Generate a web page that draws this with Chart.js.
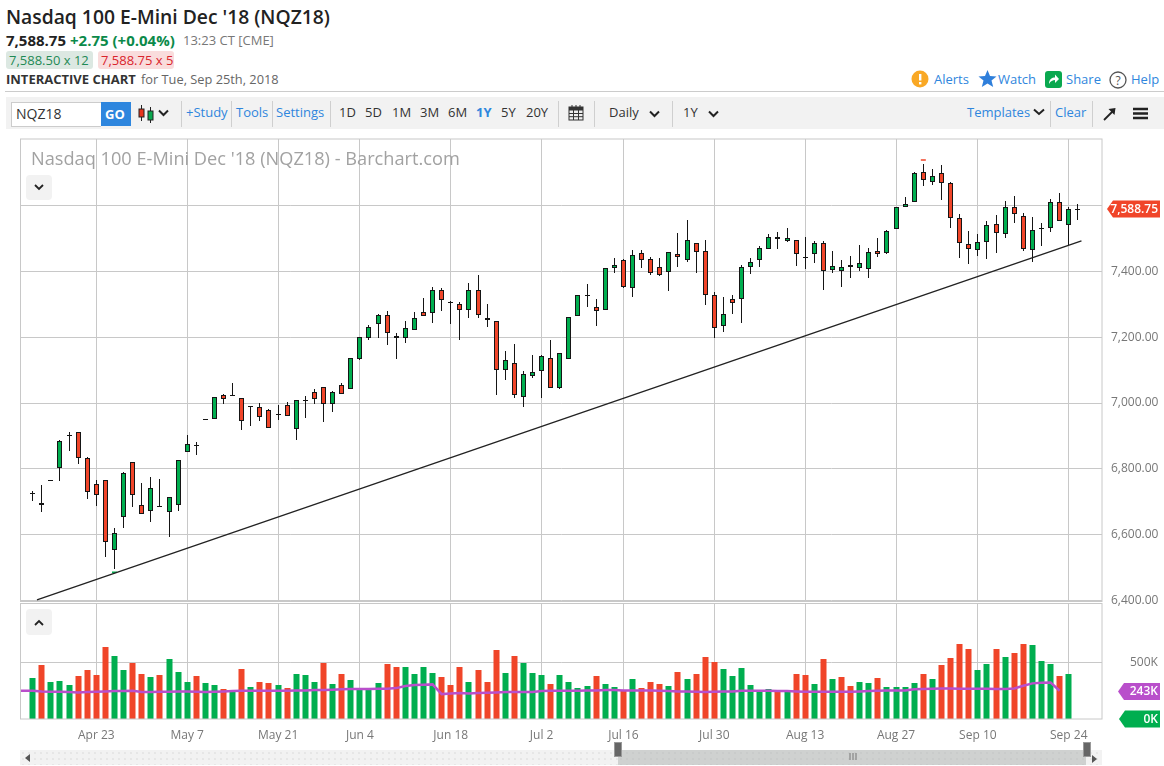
<!DOCTYPE html>
<html>
<head>
<meta charset="utf-8">
<title>NQZ18</title>
<script src="https://cdn.jsdelivr.net/npm/chart.js@4"></script>
<style>
    html, body { margin: 0; padding: 0; background: #fff; overflow: hidden; }
    body { width: 1164px; height: 766px; position: relative; font-family: "Open Sans", sans-serif; color: #333; }
    .t { position: absolute; white-space: nowrap; font-size: 13px; line-height: 18px; }
    .link { color: #2f86dd; }
    .box { position: absolute; }
    .div { position: absolute; top: 101px; height: 26px; width: 1px; background: #cfcfcf; }
    canvas { position: absolute; left: 0; }
    svg { position: absolute; }
</style>
</head>
<body>
    <div class="t" style="left:6px;top:3px;font-size:19.3px;line-height:28px;font-weight:600;color:#222">Nasdaq 100 E-Mini Dec '18 (NQZ18)</div>
    <div class="t" style="left:6px;top:31px;font-size:15px;font-weight:700;color:#222">7,588.75</div>
    <div class="t" style="left:70px;top:31px;font-size:15px;font-weight:700;color:#0b8a4a">+2.75 (+0.04%)</div>
    <div class="t" style="left:183px;top:31px;color:#777">13:23 CT [CME]</div>
    <div class="box" style="left:6px;top:51px;width:87px;height:18px;background:#dce8e2;border-radius:3px"></div>
    <div class="t" style="left:9px;top:51px;color:#1f8a55">7,588.50 x 12</div>
    <div class="box" style="left:98px;top:51px;width:76px;height:18px;background:#f9dcdc;border-radius:3px"></div>
    <div class="t" style="left:101px;top:51px;color:#d9242c">7,588.75 x 5</div>
    <div class="t" style="left:6px;top:70px;font-weight:700;color:#333">INTERACTIVE CHART</div>
    <div class="t" style="left:141px;top:70px;font-size:12.8px;color:#666">for Tue, Sep 25th, 2018</div>

    <svg style="left:911px;top:70px" width="18" height="18"><circle cx="9" cy="9" r="8.5" fill="#f9a825"/><rect x="8" y="4" width="2.4" height="6.5" fill="#fff"/><rect x="8" y="12" width="2.4" height="2.4" fill="#fff"/></svg>
    <div class="t link" style="left:934px;top:70px">Alerts</div>
    <svg style="left:978px;top:69px" width="19" height="19"><polygon points="9.5,1 12,7 18.5,7.4 13.5,11.6 15.2,18 9.5,14.4 3.8,18 5.5,11.6 0.5,7.4 7,7" fill="#2f7fdb"/></svg>
    <div class="t link" style="left:998px;top:70px">Watch</div>
    <svg style="left:1045px;top:71px" width="17" height="17"><rect width="17" height="17" rx="3" fill="#0aa84f"/><path d="M4 13 C4 8 7 6.5 10 6.5 L10 3.5 L14 8 L10 12 L10 9 C8 9 5.5 10 4 13 Z" fill="#fff"/></svg>
    <div class="t link" style="left:1066px;top:70px">Share</div>
    <svg style="left:1109px;top:71px" width="18" height="18"><circle cx="9" cy="9" r="8" fill="none" stroke="#555" stroke-width="1.3"/><text x="9" y="13.5" text-anchor="middle" font-size="12" font-family="Open Sans" fill="#555">?</text></svg>
    <div class="t link" style="left:1131px;top:70px">Help</div>

    <div class="box" style="left:5px;top:91px;width:1159px;height:1px;background:#ccc"></div>
    <div class="box" style="left:6px;top:97px;width:1158px;height:32px;background:#f2f2f2"></div>
    <div class="box" style="left:11px;top:102px;width:89px;height:23px;background:#fff;border:1px solid #ccc;border-right:none"></div>
    <div class="t" style="left:16px;top:105px;font-size:14px;color:#333">NQZ18</div>
    <div class="box" style="left:101px;top:102px;width:30px;height:24px;background:#2e86de"></div>
    <div class="t" style="left:105px;top:105px;font-weight:700;color:#fff">GO</div>
    <svg style="left:138px;top:104px" width="17" height="20"><path d="M3.5 1V17" stroke="#222"/><rect x="1" y="5" width="5" height="8" fill="#e8341c" stroke="#222"/><path d="M12.5 3V19" stroke="#222"/><rect x="10" y="7" width="5" height="9" fill="#0aa84f" stroke="#222"/></svg>
    <svg style="left:158px;top:109px" width="11" height="8"><path d="M1 1.5 L5.5 6 L10 1.5" fill="none" stroke="#222" stroke-width="2"/></svg>
    <div class="div" style="left:181px"></div>
    <div class="t link" style="left:186px;top:103px">+Study</div>
    <div class="div" style="left:231px"></div>
    <div class="t link" style="left:236px;top:103px">Tools</div>
    <div class="div" style="left:272px"></div>
    <div class="t link" style="left:276px;top:103px">Settings</div>
    <div class="div" style="left:330px"></div>
    <div class="t" style="left:339px;top:103px">1D</div>
    <div class="t" style="left:365px;top:103px">5D</div>
    <div class="t" style="left:392px;top:103px">1M</div>
    <div class="t" style="left:420px;top:103px">3M</div>
    <div class="t" style="left:448px;top:103px">6M</div>
    <div class="t link" style="left:476px;top:103px;font-weight:700">1Y</div>
    <div class="t" style="left:501px;top:103px">5Y</div>
    <div class="t" style="left:526px;top:103px">20Y</div>
    <div class="div" style="left:558px"></div>
    <svg style="left:568px;top:104px" width="16" height="17"><rect x="1" y="3" width="14" height="13" fill="#eee" stroke="#333"/><rect x="1" y="3" width="14" height="3.5" fill="#333"/><path d="M4 1V4M8 1V4M12 1V4M1 9.5H15M1 12.7H15M5.5 6V16M10.5 6V16" stroke="#333" stroke-width="1"/></svg>
    <div class="div" style="left:594px"></div>
    <div class="t" style="left:609px;top:103px">Daily</div>
    <svg style="left:649px;top:110px" width="11" height="8"><path d="M1 1.5 L5.5 6 L10 1.5" fill="none" stroke="#222" stroke-width="2"/></svg>
    <div class="div" style="left:672px"></div>
    <div class="t" style="left:683px;top:103px">1Y</div>
    <svg style="left:708px;top:110px" width="11" height="8"><path d="M1 1.5 L5.5 6 L10 1.5" fill="none" stroke="#222" stroke-width="2"/></svg>
    <div class="t link" style="left:967px;top:103px">Templates</div>
    <svg style="left:1033px;top:108px" width="12" height="8"><path d="M1 1.5 L6 6 L11 1.5" fill="none" stroke="#222" stroke-width="2"/></svg>
    <div class="div" style="left:1050px"></div>
    <div class="t link" style="left:1055px;top:103px">Clear</div>
    <div class="div" style="left:1092px"></div>
    <svg style="left:1103px;top:107px" width="13" height="14"><path d="M1 13 L11 3" stroke="#222" stroke-width="1.8"/><polygon points="5.5,2 12.5,1 11.5,8" fill="#222"/></svg>
    <svg style="left:1133px;top:107px" width="15" height="13"><path d="M0 2H15M0 6.5H15M0 11H15" stroke="#222" stroke-width="2.4"/></svg>

    <canvas id="priceChart" style="top:130px" width="1164" height="480"></canvas>
    <canvas id="volumeChart" style="top:603px" width="1164" height="150"></canvas>

    <div class="t" style="left:31px;top:146px;font-size:18.2px;line-height:24px;color:#a2a2a2">Nasdaq 100 E-Mini Dec '18 (NQZ18) - Barchart.com</div>
    <div class="box" style="left:26px;top:175px;width:26px;height:25px;background:#f2f2f2;border-radius:4px"></div>
    <svg style="left:34px;top:184px" width="10" height="7"><path d="M1 1 L5 5 L9 1" fill="none" stroke="#222" stroke-width="1.8"/></svg>
    <div class="box" style="left:26px;top:609px;width:26px;height:26px;background:#f2f2f2;border-radius:4px"></div>
    <svg style="left:34px;top:619px" width="10" height="7"><path d="M1 6 L5 2 L9 6" fill="none" stroke="#222" stroke-width="1.8"/></svg>

    <div class="box" style="left:20px;top:750px;width:1082px;height:15px;background-color:#f2f2f2;background-image:radial-gradient(#d8d8d8 0.6px,transparent 0.8px);background-size:6px 6px"></div>
    <div class="box" style="left:618px;top:750px;width:468px;height:15px;background-color:#cfd1d0;background-image:radial-gradient(#c2c4c3 0.6px,transparent 0.8px);background-size:6px 6px"></div>
    <div class="box" style="left:614px;top:742px;width:8px;height:15px;background:#666;border:1px solid #999;box-sizing:border-box"></div>
    <div class="box" style="left:1083px;top:742px;width:8px;height:15px;background:#666;border:1px solid #999;box-sizing:border-box"></div>
    <svg style="left:849px;top:753px" width="8" height="7"><path d="M1 0V7M4 0V7M7 0V7" stroke="#777" stroke-width="1"/></svg>
    <svg style="left:25px;top:754px" width="6" height="8"><polygon points="5,0 5,8 0,4" fill="#555"/></svg>
    <svg style="left:1092px;top:755px" width="6" height="8"><polygon points="0,0 0,8 5,4" fill="#555"/></svg>

<script>
const tickIndex = [7, 17, 27, 36, 46, 56, 65, 75, 85, 95, 104, 114];
const tickLabels = ["Apr 23", "May 7", "May 21", "Jun 4", "Jun 18", "Jul 2", "Jul 16", "Jul 30", "Aug 13", "Aug 27", "Sep 10", "Sep 24"];
const priceTicks = [6400, 6600, 6800, 7000, 7200, 7400, 7600];

const opens = [6723, 6692, 6763, 6802, 6899, 6911, 6832, 6753, 6768, 6553,
    6653, 6820, 6692, 6674, 6684, 6671, 6692, 6850, 6870, 6949,
    6951, 7024, 7021, 7015, 6987, 6987, 6978, 6963, 6993, 6920,
    7005, 7035, 7050, 6996, 7054, 7044, 7133, 7198, 7239, 7266,
    7196, 7196, 7221, 7275, 7272, 7342, 7303, 7300, 7281, 7342,
    7257, 7248, 7099, 7120, 7017, 7081, 7096, 7136, 7047, 7133,
    7263, 7325, 7291, 7282, 7409, 7433, 7348, 7455, 7436, 7412,
    7397, 7452, 7433, 7485, 7461, 7327, 7233, 7315, 7315, 7412,
    7433, 7467, 7503, 7491, 7494, 7440, 7452, 7485, 7403, 7400,
    7418, 7409, 7406, 7461, 7454, 7527, 7594, 7609, 7700, 7670,
    7697, 7667, 7561, 7482, 7464, 7488, 7542, 7512, 7594, 7567,
    7464, 7527, 7530, 7609, 7539, 7586];
const closes = [6727, 6696, 6766, 6884, 6903, 6832, 6729, 6720, 6580, 6607,
    6787, 6720, 6662, 6741, 6688, 6714, 6826, 6875, 6874, 6952,
    7018, 7012, 7025, 6945, 6991, 6957, 6923, 6967, 6960, 7009,
    7009, 7011, 6996, 7035, 7026, 7136, 7199, 7230, 7266, 7212,
    7202, 7227, 7257, 7263, 7342, 7312, 7307, 7281, 7342, 7266,
    7251, 7099, 7130, 7023, 7087, 7093, 7142, 7047, 7151, 7260,
    7327, 7329, 7279, 7409, 7418, 7351, 7448, 7433, 7394, 7388,
    7458, 7442, 7494, 7458, 7327, 7227, 7270, 7303, 7412, 7427,
    7470, 7503, 7497, 7500, 7452, 7444, 7485, 7400, 7415, 7412,
    7412, 7424, 7458, 7452, 7521, 7594, 7603, 7697, 7676, 7688,
    7667, 7561, 7485, 7467, 7488, 7539, 7515, 7594, 7573, 7467,
    7524, 7531, 7609, 7552, 7588, 7588.75];
const highs = [6733, 6751, 6767, 6887, 6911, 6911, 6836, 6766, 6768, 6620,
    6790, 6820, 6756, 6775, 6771, 6714, 6826, 6902, 6881, 6953,
    7018, 7027, 7061, 7015, 6992, 6999, 6981, 6994, 7002, 7009,
    7020, 7044, 7050, 7038, 7060, 7136, 7199, 7236, 7269, 7279,
    7212, 7248, 7275, 7318, 7352, 7348, 7310, 7306, 7365, 7389,
    7301, 7248, 7157, 7178, 7096, 7145, 7145, 7190, 7151, 7260,
    7327, 7362, 7315, 7411, 7439, 7436, 7464, 7464, 7442, 7439,
    7458, 7516, 7556, 7485, 7495, 7336, 7321, 7327, 7418, 7439,
    7476, 7512, 7518, 7530, 7494, 7503, 7491, 7491, 7461, 7433,
    7445, 7479, 7470, 7500, 7524, 7594, 7624, 7702, 7725, 7709,
    7721, 7670, 7573, 7521, 7512, 7552, 7570, 7612, 7627, 7576,
    7564, 7545, 7618, 7636, 7594, 7603];
const lows = [6703, 6670, 6763, 6764, 6856, 6816, 6710, 6688, 6533, 6496,
    6622, 6685, 6662, 6640, 6684, 6594, 6673, 6850, 6843, 6949,
    6951, 6998, 7020, 6919, 6931, 6947, 6923, 6950, 6960, 6889,
    6955, 6998, 6943, 6974, 7026, 7044, 7130, 7192, 7198, 7177,
    7135, 7183, 7221, 7263, 7244, 7280, 7241, 7192, 7259, 7259,
    7232, 7025, 7071, 7016, 6989, 7075, 7016, 7047, 7043, 7133,
    7263, 7290, 7235, 7282, 7396, 7348, 7323, 7411, 7388, 7385,
    7341, 7412, 7427, 7394, 7296, 7196, 7217, 7269, 7244, 7391,
    7414, 7467, 7468, 7488, 7416, 7408, 7426, 7344, 7394, 7351,
    7378, 7400, 7379, 7442, 7452, 7527, 7594, 7609, 7657, 7661,
    7617, 7532, 7439, 7423, 7445, 7436, 7455, 7500, 7547, 7461,
    7427, 7475, 7518, 7552, 7479, 7554];

// volume in thousands
const volumes = [362, 476, 326, 335, 300, 379, 432, 388, 635, 556,
    432, 494, 397, 370, 388, 529, 415, 326, 379, 318,
    300, 265, 256, 441, 282, 326, 318, 300, 273, 397,
    388, 326, 494, 309, 397, 344, 273, 273, 318, 485,
    459, 459, 397, 459, 406, 370, 300, 459, 326, 432,
    326, 609, 406, 556, 494, 406, 388, 309, 388, 326,
    273, 291, 379, 309, 282, 256, 353, 273, 326, 309,
    291, 415, 353, 397, 547, 503, 441, 379, 450, 300,
    247, 265, 256, 247, 397, 388, 309, 529, 353, 370,
    291, 326, 318, 362, 282, 282, 282, 318, 397, 353,
    476, 538, 662, 617, 432, 485, 617, 547, 582, 662,
    653, 512, 485, 379, 397, 0];
const volumeDirs = "GRGGGRRRRGGRRGRGGGRGGRGRGRRGRGGGRGRGGGGR" +
    "RGGGGRRRGRRRGRGGGRGGGGRGGRGRRRGRGRRRGGGGGG" +
    "RGRRGRGRRGGRGGGGRGRRRRGGRGRRGGGRGG";
// starts two sessions before the first candle
const volumeAvg = [250, 250, 250, 244, 241, 241, 238, 235, 238, 241, 244, 247,
    247, 250, 238, 238, 241, 241, 244, 244, 241, 238, 241, 244, 247,
    250, 250, 250, 250, 250, 250, 253, 253, 256, 256, 259, 262, 265, 265, 265,
    268, 268, 273, 291, 300, 303, 306, 220, 226, 229, 226, 229, 232, 235,
    238, 238, 238, 238, 247, 250, 250, 250, 250, 253, 253, 256, 256,
    253, 253, 253, 253, 250, 247, 244, 244, 241, 238, 241, 244, 244,
    250, 250, 250, 250, 247, 247, 244, 241, 241, 241, 241, 241, 241, 244,
    247, 250, 253, 253, 253, 262, 265, 268, 270, 270, 268, 268, 268, 268,
    265, 265, 270, 294, 315, 320, 323, 250];

const trendX = [0.47, 115.4];
const trendY = [6403, 7492];
const markerX = [98, 9];
const markerY = [7737, 6487];

const lastPrice = 7588.75;
const lastVolumeAvg = 243;
const lastVolume = 0;

const GREEN = "#00ae4f";
const RED = "#f04529";
const GRID = "#c8c8c8";
const TEXT = "#777";
const FONT = "'Open Sans', sans-serif";

const X_MIN = -1.343;
const X_MAX = 117.66;

function candleColor(i) {
    return closes[i] >= opens[i] ? GREEN : RED;
}

function tagShape(ctx, left, right, y) {
    ctx.beginPath();
    ctx.moveTo(left, y);
    ctx.lineTo(left + 6, y - 8.5);
    ctx.lineTo(right, y - 8.5);
    ctx.lineTo(right, y + 8.5);
    ctx.lineTo(left + 6, y + 8.5);
    ctx.closePath();
    ctx.fill();
}

// snaps bars to whole pixels and draws the frame and the value tags
const chartExtras = {
    id: "chartExtras",
    afterDatasetsUpdate(chart) {
        chart.data.datasets.forEach((ds, n) => {
            if (ds.type !== "bar") return;
            const floating = Array.isArray(ds.data[0].y);
            chart.getDatasetMeta(n).data.forEach((el) => {
                el.x = Math.floor(el.x) + 0.5;
                el.y = Math.round(el.y);
                el.base = Math.round(el.base);
                if (floating && el.y === el.base) el.y -= 1;
            });
        });
    },
    afterDraw(chart, args, opts) {
        const ctx = chart.ctx;
        const a = chart.chartArea;
        ctx.save();
        ctx.strokeStyle = GRID;
        ctx.lineWidth = 1;
        ctx.strokeRect(a.left, a.top, a.right - a.left, a.bottom - a.top);
        (opts.tags || []).forEach((tag) => {
            const y = chart.scales.y.getPixelForValue(tag.value);
            ctx.fillStyle = tag.color;
            tagShape(ctx, tag.left, 1160, y);
            ctx.fillStyle = "#fff";
            ctx.font = "600 12px " + FONT;
            ctx.textAlign = "right";
            ctx.textBaseline = "middle";
            ctx.fillText(tag.text, 1158, y + 0.5);
        });
        ctx.restore();
    },
};

// keeps the plot area where the layout padding puts it
function clearPadding(scale) {
    scale.paddingTop = 0;
    scale.paddingBottom = 0;
    scale.paddingLeft = 0;
    scale.paddingRight = 0;
}

function xScale(showLabels) {
    return {
        type: "linear",
        min: X_MIN,
        max: X_MAX,
        offset: false,
        afterBuildTicks: (scale) => {
            scale.ticks = tickIndex.map((v) => ({ value: v }));
        },
        afterFit: (scale) => {
            scale.height = showLabels ? 34 : 0;
            clearPadding(scale);
        },
        grid: { color: GRID, offset: false, drawTicks: false },
        border: { display: false },
        ticks: {
            display: showLabels,
            autoSkip: false,
            maxRotation: 0,
            padding: 9,
            color: TEXT,
            font: { family: FONT, size: 12 },
            callback: (value) => tickLabels[tickIndex.indexOf(value)],
        },
    };
}

const indexes = opens.map((v, i) => i);

new Chart(document.getElementById("priceChart").getContext("2d"), {
    type: "bar",
    plugins: [chartExtras],
    data: {
        datasets: [
            {
                type: "line",
                data: trendX.map((x, i) => ({ x: x, y: trendY[i] })),
                borderColor: "#222",
                borderWidth: 1.3,
                pointRadius: 0,
                order: 1,
            },
            {
                type: "line",
                data: markerX.map((x, i) => ({ x: x, y: markerY[i] })),
                showLine: false,
                pointStyle: "line",
                pointRadius: 2.5,
                pointBorderWidth: 1.5,
                pointBorderColor: [RED, GREEN],
                order: 1,
            },
            {
                type: "bar",
                data: indexes.map((i) => ({ x: i, y: [Math.min(opens[i], closes[i]), Math.max(opens[i], closes[i])] })),
                backgroundColor: indexes.map(candleColor),
                borderColor: "#151515",
                borderWidth: 1,
                borderSkipped: false,
                inflateAmount: 0,
                barThickness: 5,
                grouped: false,
                order: 2,
            },
            {
                type: "bar",
                data: indexes.map((i) => ({ x: i, y: [lows[i], highs[i]] })),
                backgroundColor: "#151515",
                borderWidth: 0,
                inflateAmount: 0,
                barThickness: 1,
                grouped: false,
                order: 3,
            },
        ],
    },
    options: {
        responsive: false,
        animation: false,
        events: [],
        layout: { padding: { left: 20.5, top: 9, bottom: 8.5, right: 0 } },
        plugins: {
            legend: { display: false },
            tooltip: { enabled: false },
            chartExtras: { tags: [{ value: lastPrice, left: 1107, color: "#f04529", text: "7,588.75" }] },
        },
        scales: {
            x: xScale(false),
            y: {
                type: "linear",
                position: "right",
                min: 6398,
                max: 7801,
                afterBuildTicks: (scale) => {
                    scale.ticks = priceTicks.map((v) => ({ value: v }));
                },
                afterFit: (scale) => {
                    scale.width = 62;
                    clearPadding(scale);
                },
                grid: { color: GRID, drawTicks: false },
                border: { display: false },
                ticks: {
                    padding: 9,
                    color: TEXT,
                    font: { family: FONT, size: 12 },
                    callback: (value) => (value === 7600 ? "" : value.toLocaleString("en-US", { minimumFractionDigits: 2 })),
                },
            },
        },
    },
});

new Chart(document.getElementById("volumeChart").getContext("2d"), {
    type: "bar",
    plugins: [chartExtras],
    data: {
        datasets: [
            {
                type: "line",
                data: volumeAvg.map((v, i) => ({ x: i - 2, y: v })),
                borderColor: "#b94fcb",
                borderWidth: 2.5,
                pointRadius: 0,
                order: 1,
            },
            {
                type: "bar",
                data: indexes.map((i) => ({ x: i, y: volumes[i] })),
                backgroundColor: indexes.map((i) => (volumeDirs[i] === "G" ? GREEN : RED)),
                borderWidth: 0,
                inflateAmount: 0,
                barThickness: 6,
                grouped: false,
                order: 2,
            },
        ],
    },
    options: {
        responsive: false,
        animation: false,
        events: [],
        layout: { padding: { left: 20.5, top: 0.5, bottom: 0, right: 0 } },
        plugins: {
            legend: { display: false },
            tooltip: { enabled: false },
            chartExtras: {
                tags: [
                    { value: lastVolumeAvg, left: 1118, color: "#b94fcb", text: lastVolumeAvg + "K" },
                    { value: lastVolume, left: 1119, color: GREEN, text: lastVolume + "K" },
                ],
            },
        },
        scales: {
            x: xScale(true),
            y: {
                type: "linear",
                position: "right",
                min: 0,
                max: 1021,
                afterBuildTicks: (scale) => {
                    scale.ticks = [{ value: 500 }];
                },
                afterFit: (scale) => {
                    scale.width = 62;
                    clearPadding(scale);
                },
                grid: { color: GRID, drawTicks: false },
                border: { display: false },
                ticks: {
                    padding: 28,
                    color: TEXT,
                    font: { family: FONT, size: 12 },
                    callback: (value) => value + "K",
                },
            },
        },
    },
});
</script>
</body>
</html>
